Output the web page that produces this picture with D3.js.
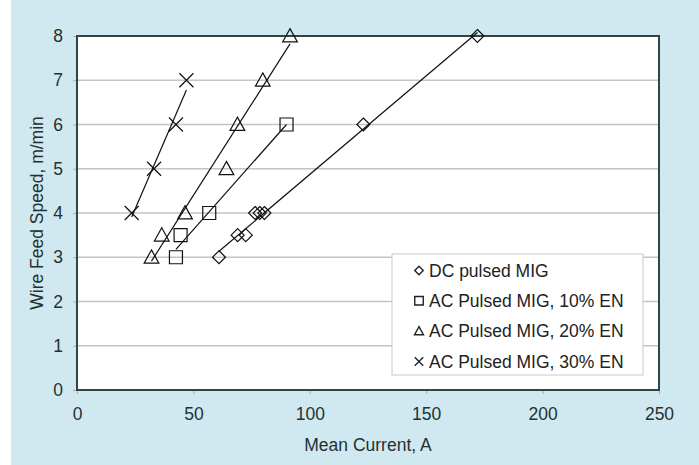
<!DOCTYPE html>
<html>
<head>
<meta charset="utf-8">
<script src="https://cdn.jsdelivr.net/npm/d3@7"></script>
<style>
  body { margin: 0; background: #fff; }
  svg { display: block; font-family: "Liberation Sans", Arial, sans-serif; }
</style>
</head>
<body>
<div id="chart"></div>
<script>
// series names
var seriesNames = ["DC pulsed MIG", "AC Pulsed MIG, 10% EN", "AC Pulsed MIG, 20% EN", "AC Pulsed MIG, 30% EN"];
var seriesShapes = ["diamond", "square", "triangle", "cross"];

// mean current (A) / wire feed speed (m/min)
var dcCurrent = [61, 69, 72.5, 76.5, 78.5, 80.5, 123, 172];
var dcSpeed   = [3, 3.5, 3.5, 4, 4, 4, 6, 8];

var ac10Current = [42.5, 44.5, 56.8, 90];
var ac10Speed   = [3, 3.5, 4, 6];

var ac20Current = [32, 36.4, 46.4, 64.2, 68.9, 79.8, 91.5];
var ac20Speed   = [3, 3.5, 4, 5, 6, 7, 8];

var ac30Current = [23.5, 33.1, 42.5, 47];
var ac30Speed   = [4, 5, 6, 7];

var xTicks = [0, 50, 100, 150, 200, 250];
var yTicks = [0, 1, 2, 3, 4, 5, 6, 7, 8];

var allCurrent = [dcCurrent, ac10Current, ac20Current, ac30Current];
var allSpeed = [dcSpeed, ac10Speed, ac20Speed, ac30Speed];

var W = 699, H = 465;
var margin = {top: 36, right: 40, bottom: 75, left: 77},
    width = W - margin.left - margin.right,
    height = H - margin.top - margin.bottom;

var svg = d3.select("#chart")
  .append("svg")
    .attr("width", W)
    .attr("height", H);

// light blue background panel
svg.append("rect")
  .attr("x", 11).attr("y", 0)
  .attr("width", W - 11).attr("height", H)
  .attr("fill", "#d0e9f0");

var g = svg.append("g")
  .attr("transform", "translate(" + margin.left + "," + margin.top + ")");

var x = d3.scaleLinear().domain([0, 250]).range([0, width]);
var y = d3.scaleLinear().domain([0, 8]).range([height, 0]);

// plot area
g.append("rect")
  .attr("width", width).attr("height", height)
  .attr("fill", "#fff");

// gridlines
g.append("g")
  .selectAll("line")
  .data(yTicks.filter(function(d) { return d > 0 && d < 8; }))
  .enter().append("line")
    .attr("x1", 0).attr("x2", width)
    .attr("y1", function(d) { return y(d); })
    .attr("y2", function(d) { return y(d); })
    .attr("stroke", "#c4c4c4")
    .attr("stroke-width", 1.5);

// axes
var xAxis = g.append("g")
  .attr("transform", "translate(0," + height + ")")
  .call(d3.axisBottom(x).tickValues(xTicks).tickSize(4).tickPadding(14));
var yAxis = g.append("g")
  .call(d3.axisLeft(y).tickValues(yTicks).tickSize(4).tickPadding(10));

[xAxis, yAxis].forEach(function(a) {
  a.select(".domain").remove();
  a.selectAll("line").attr("stroke", "#aaa");
  a.selectAll("text")
    .attr("fill", "#263030")
    .style("font-size", "17.5px")
    .style("font-family", "'Liberation Sans', Arial, sans-serif");
});

// plot border
g.append("rect")
  .attr("width", width).attr("height", height)
  .attr("fill", "none")
  .attr("stroke", "#2f4545")
  .attr("stroke-width", 2);

// marker shapes
function shapePath(type, s) {
  var h = s / 2;
  if (type == "diamond") return "M0," + (-h) + "L" + h + ",0L0," + h + "L" + (-h) + ",0Z";
  if (type == "square") return "M" + (-h) + "," + (-h) + "h" + s + "v" + s + "h" + (-s) + "Z";
  if (type == "triangle") return "M0," + (-h * 1.05) + "L" + (h * 1.05) + "," + (h * 0.85) + "L" + (-h * 1.05) + "," + (h * 0.85) + "Z";
  return "M" + (-h) + "," + (-h) + "L" + h + "," + h + "M" + h + "," + (-h) + "L" + (-h) + "," + h;
}
var markerSize = {diamond: 13, square: 13, triangle: 14, cross: 14};

// linear trendline between min and max current
function trend(xs, ys) {
  var mx = d3.mean(xs), my = d3.mean(ys);
  var sxy = d3.sum(xs, function(v, i) { return (v - mx) * (ys[i] - my); });
  var sxx = d3.sum(xs, function(v) { return (v - mx) * (v - mx); });
  var b = sxy / sxx, a = my - b * mx;
  var lo = d3.min(xs), hi = d3.max(xs);
  return [[lo, a + b * lo], [hi, a + b * hi]];
}

var line = d3.line()
  .x(function(d) { return x(d[0]); })
  .y(function(d) { return y(d[1]); });

allCurrent.forEach(function(xs, i) {
  var ys = allSpeed[i];
  g.append("path")
    .attr("d", line(trend(xs, ys)))
    .attr("fill", "none")
    .attr("stroke", "#111")
    .attr("stroke-width", 1.2);

  g.append("g")
    .selectAll("path")
    .data(xs.map(function(v, j) { return [v, ys[j]]; }))
    .enter().append("path")
      .attr("transform", function(d) { return "translate(" + x(d[0]) + "," + y(d[1]) + ")"; })
      .attr("d", shapePath(seriesShapes[i], markerSize[seriesShapes[i]]))
      .attr("fill", "none")
      .attr("stroke", "#111")
      .attr("stroke-width", 1.2);
});

// legend
var lg = svg.append("g").attr("transform", "translate(392,254)");
lg.append("rect")
  .attr("width", 251).attr("height", 121)
  .attr("fill", "#fff")
  .attr("stroke", "#c8c8c8")
  .attr("stroke-width", 1);

seriesNames.forEach(function(name, i) {
  var row = lg.append("g").attr("transform", "translate(0," + (16.5 + i * 30.3) + ")");
  row.append("path")
    .attr("transform", "translate(27,0)")
    .attr("d", shapePath(seriesShapes[i], 8.5))
    .attr("fill", "none")
    .attr("stroke", "#222")
    .attr("stroke-width", 1.4);
  row.append("text")
    .attr("x", 37).attr("dy", "0.35em")
    .attr("fill", "#222")
    .style("font-size", "17.5px")
    .text(name);
});

// axis titles
svg.append("text")
  .attr("x", margin.left + width / 2).attr("y", 451)
  .attr("text-anchor", "middle")
  .attr("fill", "#263030")
  .style("font-size", "17.5px")
  .text("Mean Current, A");

svg.append("text")
  .attr("transform", "translate(43," + (margin.top + height / 2) + ") rotate(-90)")
  .attr("text-anchor", "middle")
  .attr("fill", "#263030")
  .style("font-size", "17.5px")
  .text("Wire Feed Speed, m/min");
</script>
</body>
</html>
